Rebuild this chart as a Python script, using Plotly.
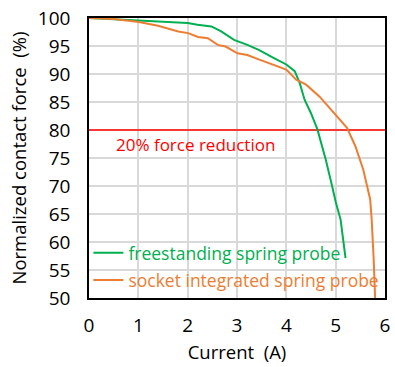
import plotly.graph_objects as go

free_current = [0.0, 0.5, 1.0, 1.5, 2.0, 2.2, 2.48, 2.68, 2.94, 3.21, 3.44, 3.74, 4.0, 4.17, 4.27, 4.37, 4.5, 4.63, 4.8, 4.93, 5.0, 5.1, 5.2]
free_force = [100.0, 99.8, 99.5, 99.3, 99.1, 98.8, 98.5, 97.6, 96.1, 95.2, 94.3, 92.9, 91.7, 90.5, 88.4, 85.4, 83.0, 80.1, 74.7, 69.9, 67.2, 64.0, 57.1]

sock_current = [0.0, 0.5, 1.01, 1.4, 1.81, 2.01, 2.21, 2.41, 2.61, 2.77, 3.01, 3.21, 3.44, 3.74, 4.0, 4.2, 4.4, 4.67, 5.0, 5.23, 5.4, 5.56, 5.7, 5.73, 5.77, 5.8]
sock_force = [100.0, 99.8, 99.3, 98.6, 97.6, 97.3, 96.6, 96.4, 95.2, 94.9, 93.7, 93.4, 92.6, 91.7, 90.8, 89.0, 88.1, 86.0, 82.7, 80.4, 77.1, 72.9, 67.6, 64.0, 57.0, 50.0]

limit_x = [0, 6]
limit_y = [80, 80]

GREEN = "#00B050"
ORANGE = "#ED7D31"
RED = "#FF0000"
FONT = "Open Sans"

fig = go.Figure()
fig.add_trace(go.Scatter(x=limit_x, y=limit_y, mode="lines",
                         line=dict(color=RED, width=1.5), showlegend=False, hoverinfo="skip"))
fig.add_trace(go.Scatter(x=free_current, y=free_force, mode="lines",
                         line=dict(color=GREEN, width=2), legend="legend",
                         name=f"<span style='color:{GREEN}'>freestanding spring probe</span>"))
fig.add_trace(go.Scatter(x=sock_current, y=sock_force, mode="lines",
                         line=dict(color=ORANGE, width=2), legend="legend2",
                         name=f"<span style='color:{ORANGE}'>socket integrated spring probe</span>"))

fig.add_annotation(x=0.5, y=77.4, xref="x", yref="y", text="20% force reduction",
                   showarrow=False, xanchor="left", yanchor="middle",
                   font=dict(color=RED, size=17, family=FONT))

axis_common = dict(showline=True, linecolor="black", linewidth=1.5, mirror=True,
                   showgrid=True, gridcolor="#D9D9D9", gridwidth=1.5, zeroline=False,
                   ticks="", tickfont=dict(size=19, color="black", family=FONT))

fig.update_xaxes(range=[0, 6], dtick=1, ticklabelstandoff=9,
                 title=dict(text="Current  (A)", font=dict(size=18.5, family=FONT, color="black"), standoff=10), **axis_common)
fig.update_yaxes(range=[50, 100], dtick=5, ticklabelstandoff=13,
                 title=dict(text="Normalized contact force  (%)", font=dict(size=18.5, family=FONT, color="black"), standoff=6), **axis_common)

leg_common = dict(x=-0.002, xanchor="left", yanchor="middle", bgcolor="rgba(0,0,0,0)",
                  font=dict(size=17.5, family=FONT), itemwidth=30, tracegroupgap=0)
fig.update_layout(
    width=395, height=367,
    margin=dict(l=89, r=5, t=18, b=69),
    plot_bgcolor="white", paper_bgcolor="white",
    font=dict(family=FONT, size=16, color="black"),
    legend=dict(y=0.161, **leg_common),
    legend2=dict(y=0.064, **leg_common),
)

fig.write_html("out.html")
